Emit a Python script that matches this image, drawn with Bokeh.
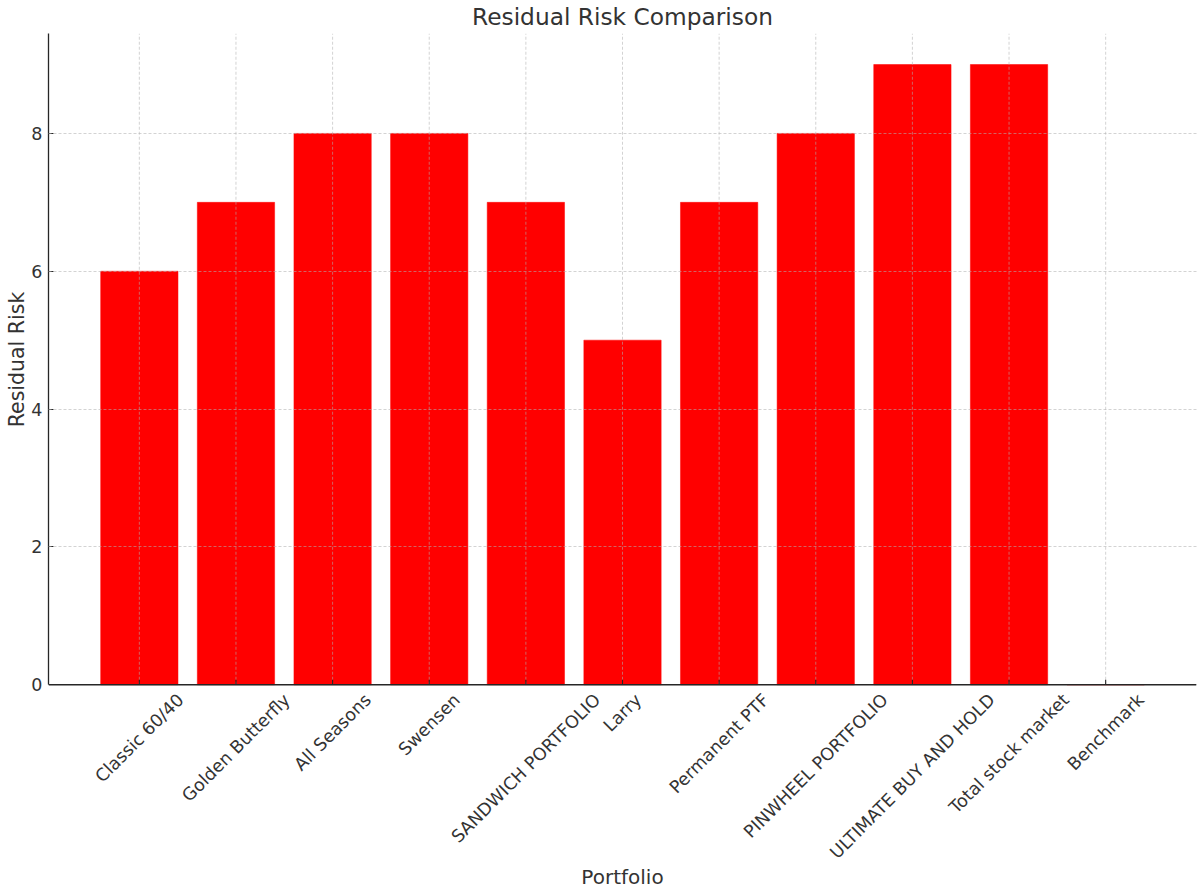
import math

from bokeh.core.properties import value
from bokeh.embed import file_html
from bokeh.models import ColumnDataSource, FixedTicker, Range1d, Span, Title
from bokeh.plotting import figure
from bokeh.resources import INLINE

# ---- data -------------------------------------------------------------
portfolios = [
    "Classic 60/40", "Golden Butterfly", "All Seasons", "Swensen",
    "SANDWICH PORTFOLIO", "Larry", "Permanent PTF", "PINWHEEL PORTFOLIO",
    "ULTIMATE BUY AND HOLD", "Total stock market", "Benchmark",
]
residual_risk = [6, 7, 8, 8, 7, 5, 7, 8, 9, 9, 0]
y_ticks = [0, 2, 4, 6, 8]

# ---- styling ----------------------------------------------------------
FONT = "DejaVu Sans"
TEXT = "#333333"
AXIS = "#262626"
GRID = "#b0b0b0"
BAR_COLOR = "#ff0000"
BAR_WIDTH = 0.8
TICK_PX = 17.5
XLABEL_PX = 20.0
YLABEL_PX = 20.5
TITLE_PX = 23.3

# layout (pixels): plot area top/bottom and the band kept under the x axis
TOP_PX, AXIS_PX, CANVAS_H = 32, 684, 891


def text_width(s, size):
    """Advance width of s in DejaVu Sans at the given pixel size."""
    try:
        from PIL import ImageFont
        for name in ("DejaVuSans.ttf",
                     "/usr/share/fonts/truetype/dejavu/DejaVuSans.ttf",
                     "/usr/share/fonts/dejavu/DejaVuSans.ttf"):
            try:
                f = ImageFont.truetype(name, 100)
                return f.getlength(s) * size / 100.0
            except OSError:
                continue
    except ImportError:
        pass
    return 0.6 * size * len(s)


idx = list(range(len(portfolios)))
source = ColumnDataSource(dict(x=idx, top=residual_risk, name=portfolios))

span = (len(idx) - 1) + BAR_WIDTH
pad = 0.05 * span
x_range = Range1d(-BAR_WIDTH / 2 - pad, (len(idx) - 1) + BAR_WIDTH / 2 + pad)
y_max = max(residual_risk) * 1.05
# extend the range below zero so the rotated category labels sit inside the frame
y_min = -y_max * (CANVAS_H - AXIS_PX) / (AXIS_PX - TOP_PX)
y_range = Range1d(y_min, y_max)

p = figure(
    width=1197, height=CANVAS_H,
    x_range=x_range, y_range=y_range,
    output_backend="svg", toolbar_location=None,
    min_border_left=48, min_border_right=1,
    min_border_top=TOP_PX, min_border_bottom=0,
    background_fill_color="white", border_fill_color="white",
)
p.outline_line_color = None
p.xaxis.visible = False
p.xgrid.visible = False

# title
p.title.text = "Residual Risk Comparison"
p.title.align = "center"
p.title.vertical_align = "top"
p.title.text_font = FONT
p.title.text_font_size = f"{TITLE_PX}px"
p.title.text_font_style = "normal"
p.title.text_color = TEXT
p.title.standoff = 4

# bars
p.vbar(x="x", top="top", width=BAR_WIDTH, source=source,
       fill_color=BAR_COLOR, line_color=BAR_COLOR, line_width=0.5)

# grid, drawn above the bars
p.ygrid.ticker = FixedTicker(ticks=y_ticks)
p.ygrid.grid_line_color = GRID
p.ygrid.grid_line_alpha = 0.7
p.ygrid.grid_line_dash = "3 2"
p.ygrid.grid_line_width = 0.8
p.ygrid.level = "guide"
p.segment(x0=idx, y0=[0] * len(idx), x1=idx, y1=[y_max] * len(idx),
          line_color=GRID, line_alpha=0.7, line_dash="3 2", line_width=0.8)

# y axis
ax = p.yaxis[0]
ax.bounds = (0, y_max)
ax.ticker = FixedTicker(ticks=y_ticks)
ax.axis_line_color = AXIS
ax.axis_line_width = 1.3
ax.major_tick_line_color = AXIS
ax.major_tick_line_width = 1.1
ax.major_tick_out = 0
ax.major_tick_in = 5
ax.minor_tick_line_color = None
ax.major_label_text_font = FONT
ax.major_label_text_font_size = f"{TICK_PX}px"
ax.major_label_text_color = TEXT
ax.major_label_standoff = 6

# y axis title, centred on the 0..max span of the axis
ylab = "Residual Risk"
ylab_len = text_width(ylab, YLABEL_PX)
y_title = Title(
    text=ylab, align="right", vertical_align="bottom",
    offset=(AXIS_PX - TOP_PX) / 2 - ylab_len / 2, standoff=0,
    text_font=FONT, text_font_size=f"{YLABEL_PX}px",
    text_font_style="normal", text_color=TEXT,
)
p.add_layout(y_title, "left")

# x axis: baseline, inward ticks, rotated category labels, axis title
p.add_layout(Span(location=0, dimension="width", line_color=AXIS, line_width=1.3))
p.ray(x=idx, y=[0] * len(idx), length=5, length_units="screen",
      angle=math.pi / 2, line_color=AXIS, line_width=1.1)

line_h = 1.164 * TICK_PX
label_off = [4.9 + 0.3535 * (text_width(s, TICK_PX) + line_h) for s in portfolios]
p.text(x=idx, y=[0] * len(idx), text=portfolios, y_offset=label_off,
       angle=math.pi / 4, text_align="center", text_baseline="middle",
       text_font=value(FONT), text_font_size=f"{TICK_PX}px", text_color=TEXT)

x_mid = (x_range.start + x_range.end) / 2
p.text(x=[x_mid], y=[0], text=["Portfolio"], y_offset=[192],
       text_align="center", text_baseline="middle",
       text_font=value(FONT), text_font_size=f"{XLABEL_PX}px", text_color=TEXT)

open("out.html", "w").write(file_html(p, INLINE))
